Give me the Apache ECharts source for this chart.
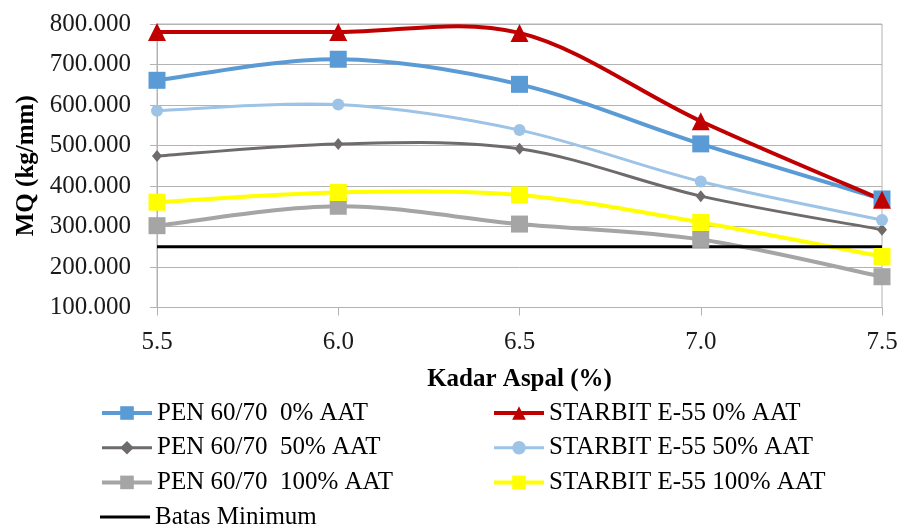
<!DOCTYPE html>
<html>
<head>
<meta charset="utf-8">
<script src="https://cdn.jsdelivr.net/npm/echarts@6/dist/echarts.min.js"></script>
<style>
  html, body { margin: 0; padding: 0; background: #fff; }
  #chart { width: 901px; height: 526px; }
</style>
</head>
<body>
<div id="chart"></div>
<script>
// Asphalt content (%) on the x axis
const kadarAspal = ['5.5', '6.0', '6.5', '7.0', '7.5'];

// Marshall Quotient (kg/mm) per mix
const pen0 = [661, 713, 651, 504, 368];
const starbit0 = [780, 780, 778, 560, 366];
const pen50 = [474, 504, 492, 375, 292];
const starbit50 = [586, 601, 538, 411, 316];
const pen100 = [302, 350, 306, 268, 176];
const starbit100 = [360, 384, 378, 310, 226];
const batasMinimum = [250, 250, 250, 250, 250];

const FONT = "'Liberation Serif', 'Times New Roman', serif";

// Smooth curve through the points (Catmull-Rom, 1/6 tangent), drawn in axis coordinates
function curveSeries(values, color, width) {
  return {
    type: 'custom',
    data: [[0, values[0]]],
    clip: false,
    silent: true,
    animation: false,
    renderItem: function (params, api) {
      const pts = values.map((v, i) => api.coord([i, v]));
      const n = pts.length;
      const children = [];
      for (let i = 0; i < n - 1; i++) {
        const p0 = pts[Math.max(i - 1, 0)];
        const p1 = pts[i];
        const p2 = pts[i + 1];
        const p3 = pts[Math.min(i + 2, n - 1)];
        children.push({
          type: 'bezierCurve',
          shape: {
            x1: p1[0], y1: p1[1],
            cpx1: p1[0] + (p2[0] - p0[0]) / 6, cpy1: p1[1] + (p2[1] - p0[1]) / 6,
            cpx2: p2[0] - (p3[0] - p1[0]) / 6, cpy2: p2[1] - (p3[1] - p1[1]) / 6,
            x2: p2[0], y2: p2[1]
          },
          style: { stroke: color, lineWidth: width, fill: null, lineCap: 'round' }
        });
      }
      return { type: 'group', children: children };
    }
  };
}

// Markers for each mix (the curve itself comes from curveSeries)
function markerSeries(name, data, color, symbol, size) {
  return {
    name: name,
    type: 'line',
    data: data,
    symbol: symbol,
    symbolSize: size,
    showSymbol: true,
    lineStyle: { color: color, width: 0, opacity: 0 },
    itemStyle: { color: color },
    emphasis: { disabled: true },
    animation: false
  };
}

function legendItem(name, color, width) {
  return { name: name, lineStyle: { color: color, width: width, opacity: 1 } };
}

const legendText = { fontFamily: FONT, fontSize: 25, lineHeight: 26, color: '#000' };

const chart = echarts.init(document.getElementById('chart'));
chart.setOption({
  backgroundColor: '#ffffff',
  animation: false,
  textStyle: { fontFamily: FONT },
  grid: {
    left: 157, right: 19, top: 24, bottom: 218.5,
    show: true, borderColor: '#b3b3b3', borderWidth: 1
  },
  xAxis: {
    type: 'category',
    data: kadarAspal,
    boundaryGap: false,
    name: 'Kadar Aspal (%)',
    nameLocation: 'middle',
    nameGap: 60,
    nameTextStyle: { fontFamily: FONT, fontSize: 25, fontWeight: 'bold', color: '#000' },
    axisLine: { lineStyle: { color: '#b3b3b3', width: 1 } },
    axisTick: { show: true, length: 8, inside: false, lineStyle: { color: '#b3b3b3' } },
    axisLabel: { margin: 22, fontFamily: FONT, fontSize: 25, color: '#1a1a1a' },
    splitLine: { show: false }
  },
  yAxis: {
    type: 'value',
    min: 100, max: 800, interval: 100,
    name: 'MQ (kg/mm)',
    nameLocation: 'middle',
    nameGap: 117,
    nameRotate: 90,
    nameTextStyle: { fontFamily: FONT, fontSize: 25, fontWeight: 'bold', color: '#000' },
    axisLine: { show: true, lineStyle: { color: '#b3b3b3', width: 1 } },
    axisTick: { show: true, length: 7, lineStyle: { color: '#b3b3b3' } },
    axisLabel: {
      margin: 26, fontFamily: FONT, fontSize: 25, color: '#1a1a1a',
      formatter: v => v.toFixed(3)
    },
    splitLine: { show: true, lineStyle: { color: '#b3b3b3', width: 1 } }
  },
  legend: [
    {
      orient: 'vertical', left: 100, top: 400, padding: 0,
      itemWidth: 50, itemHeight: 17, itemGap: 8.7,
      textStyle: legendText,
      data: [
        legendItem('PEN 60/70  0% AAT', '#5b9bd5', 4),
        legendItem('PEN 60/70  50% AAT', '#6f6b6b', 3),
        legendItem('PEN 60/70  100% AAT', '#a5a5a5', 4)
      ]
    },
    {
      orient: 'vertical', left: 492, top: 400, padding: 0,
      itemWidth: 50, itemHeight: 17, itemGap: 8.7,
      textStyle: legendText,
      data: [
        legendItem('STARBIT E-55 0% AAT', '#c00000', 4),
        legendItem('STARBIT E-55 50% AAT', '#9dc3e6', 3),
        legendItem('STARBIT E-55 100% AAT', '#ffff00', 4)
      ]
    },
    {
      orient: 'vertical', left: 100, top: 504, padding: 0,
      itemWidth: 50, itemHeight: 3, icon: 'rect',
      textStyle: legendText,
      data: ['Batas Minimum']
    }
  ],
  series: [
    curveSeries(pen0, '#5b9bd5', 4),
    markerSeries('PEN 60/70  0% AAT', pen0, '#5b9bd5', 'rect', 17),
    curveSeries(starbit0, '#c00000', 4),
    markerSeries('STARBIT E-55 0% AAT', starbit0, '#c00000', 'triangle', 18),
    curveSeries(pen50, '#6f6b6b', 3),
    markerSeries('PEN 60/70  50% AAT', pen50, '#6f6b6b', 'diamond', [10, 12]),
    curveSeries(starbit50, '#9dc3e6', 3),
    markerSeries('STARBIT E-55 50% AAT', starbit50, '#9dc3e6', 'circle', 12),
    curveSeries(pen100, '#a5a5a5', 4),
    markerSeries('PEN 60/70  100% AAT', pen100, '#a5a5a5', 'rect', 17),
    curveSeries(starbit100, '#ffff00', 4),
    markerSeries('STARBIT E-55 100% AAT', starbit100, '#ffff00', 'rect', 17),
    {
      name: 'Batas Minimum',
      type: 'line',
      data: batasMinimum,
      symbol: 'none',
      showSymbol: false,
      lineStyle: { color: '#000000', width: 3 },
      itemStyle: { color: '#000000' },
      emphasis: { disabled: true },
      animation: false
    }
  ]
});
</script>
</body>
</html>
